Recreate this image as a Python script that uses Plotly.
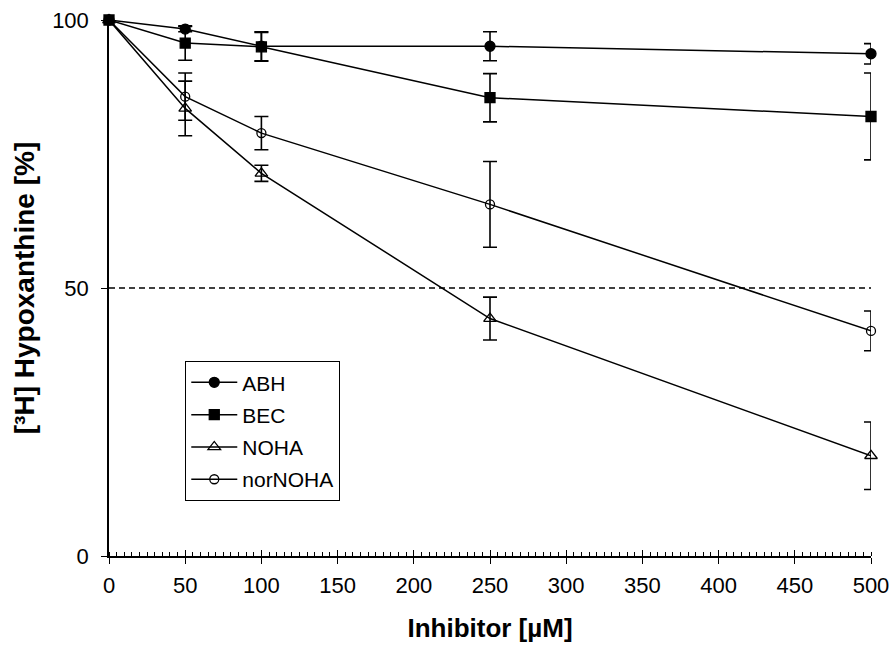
import plotly.graph_objects as go

x_vals = [0, 50, 100, 250, 500]

abh = [100, 98.3, 95.1, 95.1, 93.7]
abh_err = [0, 0.5, 2.7, 2.7, 1.9]

bec = [100, 95.7, 95.0, 85.5, 82.0]
bec_err = [0, 3.2, 2.7, 4.5, 8.1]

noha = [100, 83.5, 71.4, 44.3, 18.7]
noha_err = [0, 5.1, 1.5, 4.0, 6.3]

nornoha = [100, 85.7, 78.9, 65.6, 42.0]
nornoha_err = [0, 4.4, 3.1, 8.0, 3.7]

series_names = ["ABH", "BEC", "NOHA", "norNOHA"]
series_vals = [abh, bec, noha, nornoha]
series_errs = [abh_err, bec_err, noha_err, nornoha_err]
symbols = ["circle", "square", "triangle-up-open", "circle-open"]
sizes = [10, 10, 11, 9]

x_ticks = [0, 50, 100, 150, 200, 250, 300, 350, 400, 450, 500]
y_ticks = [0, 50, 100]
threshold = 50

FONT = "Liberation Sans, Arial, sans-serif"

fig = go.Figure()
for i, (name, vals, errs, sym, sz) in enumerate(zip(series_names, series_vals, series_errs, symbols, sizes)):
    fig.add_trace(go.Scatter(
        x=x_vals, y=vals, name=name, mode="lines+markers",
        line=dict(color="black", width=1.5),
        marker=dict(symbol=sym, size=sz, color="black",
                    line=dict(color="black", width=1.3)),
        error_y=dict(type="data", array=errs, visible=True,
                     color="black", thickness=1.6, width=7),
        cliponaxis=False, legendgroup=name,
    ))

fig.add_shape(type="line", xref="x", yref="y", x0=x_vals[0], x1=x_vals[-1],
              y0=threshold, y1=threshold,
              line=dict(color="black", width=1.3, dash="6px,4px"), layer="below")

# invisible trace to activate the overlay axis for crossing ticks
fig.add_trace(go.Scatter(x=[0, 500], y=[0, 0], xaxis="x2", mode="markers",
                         marker=dict(opacity=0), showlegend=False, hoverinfo="skip"))

fig.update_layout(
    width=893, height=648,
    margin=dict(l=109, r=22, t=20, b=92, autoexpand=False),
    paper_bgcolor="white", plot_bgcolor="white",
    font=dict(family=FONT, size=22, color="black"),
    showlegend=True,
    legend=dict(x=0.0997, y=0.364, xanchor="left", yanchor="top",
                bordercolor="black", borderwidth=1.3, bgcolor="white",
                font=dict(size=21), tracegroupgap=2,
                itemwidth=46),
    xaxis=dict(range=[0, 500], tickvals=x_ticks, ticks="outside", ticklen=6,
               tickwidth=1.3, tickcolor="black", showline=True, linecolor="black",
               linewidth=1.5, showgrid=False, zeroline=False, automargin=False,
               ticklabeloverflow="allow",
               minor=dict(dtick=5, ticks="inside", ticklen=4, tickwidth=1, tickcolor="black", showgrid=False),
               ticklabelstandoff=3,
               title=dict(text="<b>Inhibitor [µM]</b>", font=dict(size=26), standoff=22)),
    xaxis2=dict(range=[0, 500], overlaying="x", anchor="y", side="bottom",
                tickvals=x_ticks, ticks="inside", ticklen=6, tickwidth=1.3,
                tickcolor="black", showticklabels=False, showgrid=False,
                zeroline=False, showline=False, automargin=False),
    yaxis=dict(range=[0, 100], tickvals=y_ticks, ticks="outside", ticklen=6,
               tickwidth=1.3, tickcolor="black", showline=True, linecolor="black",
               linewidth=1.5, showgrid=False, zeroline=False, automargin=False,
               ticklabeloverflow="allow",
               ticklabelstandoff=8,
               title=dict(text="<b>[³H] Hypoxanthine [%]</b>", font=dict(size=28), standoff=9)),
)

fig.write_html("out.html", config={"displayModeBar": False},
               post_script="document.body.style.margin='0px';document.body.style.overflow='hidden';")
